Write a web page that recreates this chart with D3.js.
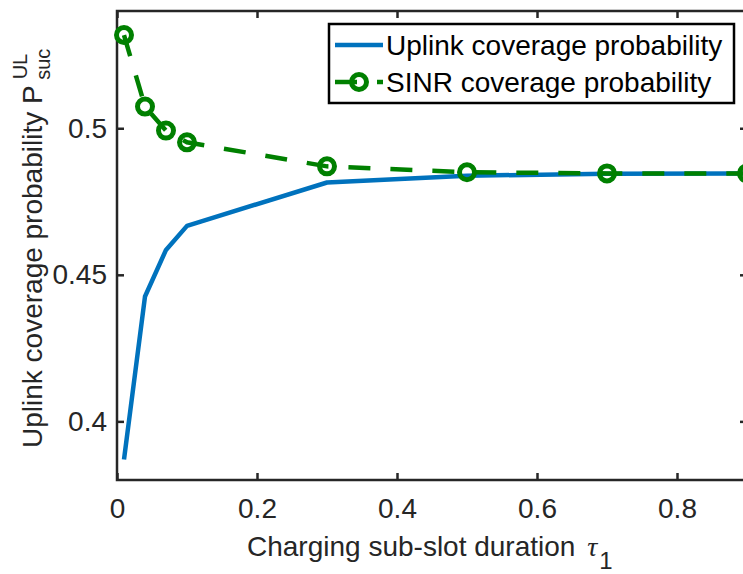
<!DOCTYPE html>
<html>
<head>
<meta charset="utf-8">
<script src="https://cdn.jsdelivr.net/npm/d3@7"></script>
<style>
  body { margin: 0; background: #fff; }
  svg { display: block; font-family: "Liberation Sans", Arial, sans-serif; }
</style>
</head>
<body>
<svg id="chart" width="743" height="574"></svg>
<script>
// values
const tau = [0.01, 0.04, 0.07, 0.1, 0.3, 0.5, 0.7, 0.9];
const uplink = [0.387, 0.4426, 0.4585, 0.4667, 0.4815, 0.4838, 0.4845, 0.4846];
const sinr = [0.5318, 0.5074, 0.4992, 0.4952, 0.4870, 0.4850, 0.4846, 0.4846];
const xTicks = [0, 0.2, 0.4, 0.6, 0.8];
const yTicks = [0.4, 0.45, 0.5];
const seriesNames = ["Uplink coverage probability", "SINR coverage probability"];

const svg = d3.select("#chart");
const margin = {top: 11, right: -4, bottom: 94, left: 117};
const width = 743 - margin.left - margin.right;
const height = 574 - margin.top - margin.bottom;

const x = d3.scaleLinear().domain([0, 0.9]).range([0, width]);
const y = d3.scaleLinear().domain([0.38, 0.54]).range([height, 0]);

const g = svg.append("g")
  .attr("transform", `translate(${margin.left},${margin.top})`);

const axisColor = "#262626";
const fs = 28;
const dash = "22,20";

// axes (MATLAB style box with inward ticks)
g.append("rect")
  .attr("width", width).attr("height", height)
  .attr("fill", "none").attr("stroke", axisColor).attr("stroke-width", 2.5);

const xAxis = g.append("g")
  .attr("transform", `translate(0,${height})`)
  .call(d3.axisBottom(x).tickValues(xTicks).tickSizeInner(-7).tickSizeOuter(0).tickPadding(18)
    .tickFormat(d => d === 0 ? "0" : d3.format(".1f")(d)));
const yAxis = g.append("g")
  .call(d3.axisLeft(y).tickValues(yTicks).tickSizeInner(-7).tickSizeOuter(0).tickPadding(10)
    .tickFormat(d => String(+d.toFixed(2))));
const xTop = g.append("g")
  .call(d3.axisTop(x).tickValues(xTicks).tickSizeInner(-7).tickSizeOuter(0).tickFormat(""));
const yRight = g.append("g")
  .attr("transform", `translate(${width},0)`)
  .call(d3.axisRight(y).tickValues(yTicks).tickSizeInner(-7).tickSizeOuter(0).tickFormat(""));

[xAxis, yAxis, xTop, yRight].forEach(a => {
  a.select(".domain").remove();
  a.selectAll("line").attr("stroke", axisColor).attr("stroke-width", 2.5);
  a.selectAll("text").attr("fill", axisColor).attr("font-size", fs)
    .attr("font-family", "Liberation Sans, Arial, sans-serif");
});

// series
const blue = "#0072BD", green = "#008000";
const line = d3.line().x(d => x(d[0])).y(d => y(d[1]));

g.append("path")
  .datum(tau.map((t, i) => [t, uplink[i]]))
  .attr("d", line)
  .attr("fill", "none").attr("stroke", blue).attr("stroke-width", 4.5)
  .attr("stroke-linejoin", "round");

const sinrPts = tau.map((t, i) => [t, sinr[i]]);
g.append("path")
  .datum(sinrPts)
  .attr("d", line)
  .attr("fill", "none").attr("stroke", green).attr("stroke-width", 4.5)
  .attr("stroke-dasharray", dash);

g.selectAll(".mk")
  .data(sinrPts)
  .enter().append("circle")
    .attr("class", "mk")
    .attr("cx", d => x(d[0])).attr("cy", d => y(d[1]))
    .attr("r", 7.5)
    .attr("fill", "none").attr("stroke", green).attr("stroke-width", 5);

// labels
svg.append("text")
  .attr("x", 247).attr("y", 556)
  .attr("font-size", fs).attr("fill", axisColor)
  .call(t => {
    t.append("tspan").text("Charging sub-slot duration ");
    t.append("tspan").attr("dx", 4).attr("font-family", "Liberation Serif, serif").attr("font-style", "italic").text("\u03C4");
    t.append("tspan").attr("dx", 2).attr("dy", 13).attr("font-size", 24).text("1");
  });

svg.append("text")
  .attr("transform", "translate(42,448) rotate(-90)")
  .attr("font-size", fs).attr("fill", axisColor)
  .call(t => {
    t.append("tspan").text("Uplink coverage probability P");
    t.append("tspan").attr("dx", 6).attr("dy", -15).attr("font-size", 20).text("UL");
    t.append("tspan").attr("dx", -26).attr("dy", 23).attr("font-size", 20).text("suc");
  });

// legend
const leg = svg.append("g").attr("transform", "translate(329,24)");
leg.append("rect")
  .attr("width", 405).attr("height", 79)
  .attr("fill", "#fff").attr("stroke", "#000").attr("stroke-width", 2.5);

const rows = leg.selectAll(".row")
  .data(seriesNames)
  .enter().append("g")
    .attr("class", "row")
    .attr("transform", (d, i) => `translate(0,${21 + i * 37})`);

rows.append("line")
  .attr("x1", 6).attr("x2", 54).attr("y1", 0).attr("y2", 0)
  .attr("stroke", (d, i) => i ? green : blue).attr("stroke-width", 4.5)
  .attr("stroke-dasharray", (d, i) => i ? dash : null);
rows.filter((d, i) => i === 1).append("circle")
  .attr("cx", 30).attr("cy", 0).attr("r", 7.5)
  .attr("fill", "none").attr("stroke", green).attr("stroke-width", 5);
rows.append("text")
  .attr("x", 57).attr("y", 10)
  .attr("font-size", fs).attr("fill", "#000")
  .text(d => d);
</script>
</body>
</html>
